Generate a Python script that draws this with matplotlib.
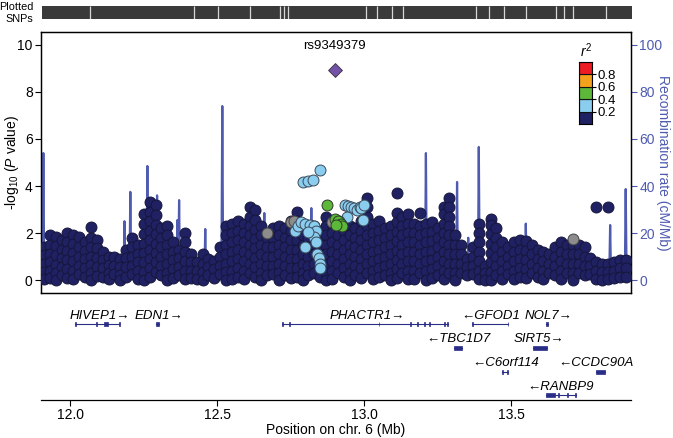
import matplotlib
matplotlib.use("Agg")
import matplotlib.pyplot as plt
from matplotlib.patches import Rectangle

plt.rcParams['font.family'] = ['Liberation Sans', 'DejaVu Sans']
plt.rcParams['mathtext.fontset'] = 'custom'
plt.rcParams['mathtext.rm'] = 'Liberation Sans'
plt.rcParams['mathtext.it'] = 'Liberation Sans:italic'

# ---------------- data ----------------
# navy SNP columns: (position Mb, [-log10 P values])
navy_cols = [
    (11.910, [1.40, 1.05, 0.70, 0.35, 0.05]),
    (11.930, [1.90, 1.50, 1.10, 0.75, 0.40, 0.08]),
    (11.950, [1.85, 1.45, 1.05, 0.65, 0.30, 0.02]),
    (11.970, [1.70, 1.30, 0.95, 0.55, 0.20]),
    (11.990, [2.00, 1.60, 1.25, 0.85, 0.45, 0.10]),
    (12.010, [1.90, 1.55, 1.15, 0.80, 0.40, 0.05]),
    (12.030, [1.85, 1.40, 1.00, 0.60, 0.25]),
    (12.050, [1.60, 1.25, 0.90, 0.50, 0.12]),
    (12.070, [2.25, 1.80, 1.40, 1.00, 0.65, 0.30, 0.02]),
    (12.090, [1.70, 1.35, 0.95, 0.55, 0.18]),
    (12.110, [1.20, 0.85, 0.50, 0.15]),
    (12.130, [1.00, 0.65, 0.30, 0.03]),
    (12.150, [1.00, 0.60, 0.25]),
    (12.170, [0.90, 0.55, 0.20, 0.02]),
    (12.190, [1.30, 0.95, 0.55, 0.15]),
    (12.210, [1.80, 1.40, 1.00, 0.60, 0.25]),
    (12.230, [1.50, 1.10, 0.75, 0.40, 0.05]),
    (12.250, [2.80, 2.40, 1.95, 1.55, 1.15, 0.75, 0.35, 0.02]),
    (12.270, [3.30, 2.90, 2.50, 2.10, 1.70, 1.30, 0.90, 0.50, 0.12]),
    (12.290, [3.20, 2.75, 2.35, 1.95, 1.55, 1.15, 0.75, 0.35]),
    (12.310, [2.20, 1.80, 1.40, 1.00, 0.60, 0.22]),
    (12.330, [2.30, 1.90, 1.50, 1.10, 0.70, 0.30, 0.02]),
    (12.350, [1.60, 1.20, 0.85, 0.45, 0.10]),
    (12.370, [1.30, 0.95, 0.55, 0.20]),
    (12.390, [2.00, 1.60, 1.20, 0.80, 0.40, 0.05]),
    (12.410, [1.10, 0.75, 0.40, 0.08]),
    (12.430, [0.75, 0.40, 0.05]),
    (12.450, [1.10, 0.70, 0.35, 0.02]),
    (12.470, [0.90, 0.55, 0.20]),
    (12.490, [0.80, 0.45, 0.10]),
    (12.510, [1.40, 1.00, 0.60, 0.25]),
    (12.530, [2.30, 1.90, 1.50, 1.10, 0.70, 0.35, 0.02]),
    (12.550, [2.40, 2.00, 1.60, 1.20, 0.80, 0.40, 0.05]),
    (12.570, [2.50, 2.10, 1.70, 1.30, 0.90, 0.50, 0.12]),
    (12.590, [2.40, 2.00, 1.60, 1.20, 0.80, 0.40, 0.03]),
    (12.610, [3.10, 2.70, 2.30, 1.90, 1.50, 1.10, 0.70, 0.30]),
    (12.630, [3.00, 2.55, 2.15, 1.75, 1.35, 0.95, 0.55, 0.15]),
    (12.650, [2.30, 1.90, 1.50, 1.10, 0.70, 0.30, 0.02]),
    (12.670, [1.80, 1.40, 1.00, 0.60, 0.22]),
    (12.690, [2.20, 1.80, 1.40, 1.00, 0.60, 0.25]),
    (12.710, [2.30, 1.90, 1.50, 1.10, 0.70, 0.30, 0.02]),
    (12.730, [2.20, 1.80, 1.40, 1.00, 0.60, 0.20]),
    (12.750, [2.50, 2.10, 1.70, 1.30, 0.90, 0.50, 0.10]),
    (12.770, [2.90, 2.50, 2.10, 1.70, 1.30, 0.90, 0.50, 0.12]),
    (12.790, [2.30, 1.90, 1.50, 1.10, 0.70, 0.30, 0.02]),
    (12.810, [2.20, 1.80, 1.40, 1.00, 0.60, 0.22]),
    (12.830, [2.30, 1.90, 1.50, 1.10, 0.70, 0.30]),
    (12.850, [2.10, 1.70, 1.30, 0.90, 0.50, 0.12]),
    (12.870, [2.70, 2.30, 1.90, 1.50, 1.10, 0.70, 0.30, 0.02]),
    (12.890, [2.40, 2.00, 1.60, 1.20, 0.80, 0.40, 0.05]),
    (12.910, [2.30, 1.90, 1.50, 1.10, 0.70, 0.30]),
    (12.930, [2.10, 1.70, 1.30, 0.90, 0.50, 0.12]),
    (12.950, [2.30, 1.90, 1.50, 1.10, 0.70, 0.30, 0.02]),
    (12.970, [2.20, 1.80, 1.40, 1.00, 0.60, 0.20]),
    (12.990, [2.50, 2.10, 1.70, 1.30, 0.90, 0.50, 0.10]),
    (13.010, [3.50, 3.10, 2.70, 2.30, 1.90, 1.50, 1.10, 0.70, 0.30]),
    (13.030, [2.40, 2.00, 1.60, 1.20, 0.80, 0.40, 0.05]),
    (13.050, [2.50, 2.10, 1.70, 1.30, 0.90, 0.50, 0.12]),
    (13.070, [2.20, 1.80, 1.40, 1.00, 0.60, 0.22]),
    (13.090, [2.30, 1.90, 1.50, 1.10, 0.70, 0.30, 0.02]),
    (13.110, [3.70, 2.85, 2.45, 2.05, 1.65, 1.25, 0.85, 0.45, 0.08]),
    (13.130, [2.70, 2.30, 1.90, 1.50, 1.10, 0.70, 0.30]),
    (13.150, [2.80, 2.40, 2.00, 1.60, 1.20, 0.80, 0.40, 0.03]),
    (13.170, [2.40, 2.00, 1.60, 1.20, 0.80, 0.40, 0.05]),
    (13.190, [2.85, 2.30, 1.90, 1.50, 1.10, 0.70, 0.30]),
    (13.210, [2.40, 2.00, 1.60, 1.20, 0.80, 0.40, 0.02]),
    (13.230, [2.45, 2.05, 1.65, 1.25, 0.85, 0.45, 0.10]),
    (13.250, [2.20, 1.80, 1.40, 1.00, 0.60, 0.20]),
    (13.270, [3.10, 2.80, 2.40, 2.00, 1.60, 1.20, 0.80, 0.40, 0.05]),
    (13.290, [3.50, 3.10, 2.70, 2.30, 1.90, 1.50, 1.10, 0.70, 0.30]),
    (13.310, [1.90, 1.50, 1.10, 0.70, 0.30, 0.02]),
    (13.330, [1.50, 1.10, 0.70, 0.30]),
    (13.350, [0.90, 0.55, 0.20]),
    (13.370, [1.40, 1.00, 0.60, 0.25]),
    (13.390, [2.40, 2.00, 1.60, 1.20, 0.80, 0.40, 0.05]),
    (13.410, [0.60, 0.30, 0.02]),
    (13.430, [2.60, 2.35, 1.95, 1.55, 1.15, 0.75, 0.35, 0.02]),
    (13.450, [2.20, 1.80, 1.40, 1.00, 0.60, 0.22]),
    (13.470, [1.60, 1.20, 0.80, 0.40, 0.05]),
    (13.490, [1.40, 1.00, 0.60, 0.25]),
    (13.510, [1.60, 1.20, 0.80, 0.40, 0.03]),
    (13.530, [1.70, 1.30, 0.90, 0.50, 0.12]),
    (13.550, [1.65, 1.25, 0.85, 0.45, 0.08]),
    (13.570, [1.50, 1.10, 0.70, 0.30]),
    (13.590, [1.30, 0.90, 0.50, 0.12]),
    (13.610, [1.20, 0.80, 0.40, 0.05]),
    (13.630, [1.10, 0.70, 0.30]),
    (13.650, [1.40, 1.00, 0.60, 0.22]),
    (13.670, [1.60, 1.20, 0.80, 0.40, 0.03]),
    (13.690, [1.50, 1.10, 0.70, 0.30]),
    (13.710, [1.50, 1.10, 0.70, 0.30, 0.02]),
    (13.730, [1.50, 1.10, 0.70, 0.30]),
    (13.750, [1.40, 1.00, 0.60, 0.22]),
    (13.770, [0.95, 0.60, 0.25]),
    (13.790, [3.10, 0.75, 0.40, 0.05]),
    (13.810, [0.70, 0.35, 0.02]),
    (13.830, [3.10, 0.70, 0.35, 0.05]),
    (13.850, [0.75, 0.40, 0.08]),
    (13.870, [0.85, 0.50, 0.15]),
    (13.890, [0.85, 0.50, 0.12]),
]

lightblue_pos = [12.790, 12.810, 12.826, 12.850, 12.765, 12.775, 12.785, 12.800,
                 12.815, 12.830, 12.835, 12.830, 12.800, 12.840, 12.845, 12.850,
                 12.850, 12.835, 12.810, 12.935, 12.945, 12.955, 12.965, 12.975,
                 12.985, 12.990, 12.998, 12.995, 12.940, 12.915]
lightblue_p = [4.17, 4.20, 4.25, 4.68, 2.10, 2.30, 2.45, 2.40,
               2.35, 2.30, 2.10, 1.85, 1.40, 1.10, 0.95, 0.70,
               0.50, 1.60, 2.05, 3.20, 3.15, 3.10, 3.05, 3.00,
               3.10, 3.05, 3.20, 2.55, 2.70, 2.50]

green_pos = [12.875, 12.900, 12.910, 12.920, 12.925, 12.905]
green_p = [3.20, 2.60, 2.50, 2.40, 2.30, 2.35]

gray_pos = [12.670, 12.750, 12.760, 12.890, 13.710]
gray_p = [2.00, 2.45, 2.50, 2.45, 1.75]

lead_pos = 12.900
lead_p = 8.94
lead_name = "rs9349379"

recomb_pos = [11.900, 11.905, 11.908, 11.911, 11.950, 12.000, 12.050, 12.100,
              12.150, 12.181, 12.184, 12.187, 12.201, 12.204, 12.207, 12.259,
              12.262, 12.265, 12.277, 12.280, 12.283, 12.292, 12.295, 12.298,
              12.361, 12.364, 12.367, 12.370, 12.373, 12.456, 12.459, 12.462,
              12.514, 12.517, 12.520, 12.527, 12.530, 12.533, 12.600, 12.657,
              12.660, 12.663, 12.750, 12.817, 12.820, 12.823, 12.900, 13.000,
              13.113, 13.116, 13.119, 13.207, 13.210, 13.213, 13.313, 13.316,
              13.319, 13.351, 13.354, 13.357, 13.387, 13.390, 13.393, 13.450,
              13.547, 13.550, 13.553, 13.650, 13.750, 13.834, 13.837, 13.840,
              13.887, 13.890, 13.893, 13.910]
recomb_rate = [1.0, 1.5, 54.0, 1.5, 1.0, 1.2, 0.8, 1.0,
               1.2, 1.5, 25.0, 1.5, 1.5, 37.5, 1.5, 1.5,
               48.5, 2.0, 2.0, 22.0, 2.0, 2.0, 36.0, 2.0,
               2.0, 25.5, 2.0, 34.0, 2.0, 1.5, 21.7, 1.5,
               2.0, 74.0, 3.0, 3.0, 21.0, 2.0, 1.0, 1.5,
               28.5, 1.5, 1.0, 1.5, 30.6, 1.5, 1.0, 1.0,
               1.5, 17.0, 1.5, 2.0, 54.0, 2.0, 2.0, 41.7,
               2.0, 1.5, 18.0, 1.5, 2.0, 56.6, 2.0, 1.0,
               1.5, 24.0, 1.5, 1.0, 1.0, 1.5, 23.4, 1.5,
               2.0, 38.7, 2.0, 1.0]

snp_gap_pos = [12.063, 12.417, 12.498, 12.608, 12.711, 12.725, 12.737, 13.001,
               13.040, 13.091, 13.128, 13.377, 13.421, 13.472, 13.546, 13.648,
               13.678, 13.707, 13.821]

gene_names = ["HIVEP1", "EDN1", "PHACTR1", "GFOD1", "NOL7", "TBC1D7", "SIRT5",
              "C6orf114", "CCDC90A", "RANBP9"]
gene_start = [12.017, 12.292, 12.720, 13.367, 13.618, 13.306, 13.575, 13.470, 13.790, 13.620]
gene_end = [12.167, 12.300, 13.286, 13.490, 13.626, 13.333, 13.622, 13.490, 13.820, 13.720]
gene_strand = ["+", "+", "+", "-", "+", "-", "+", "-", "-", "-"]
gene_row = [0, 0, 0, 0, 0, 1, 1, 2, 2, 3]
gene_label_pos = [12.099, 12.300, 13.010, 13.430, 13.626, 13.320, 13.595, 13.480, 13.790, 13.667]
gene_exons = [
    [(12.016, 0.003), (12.087, 0.003), (12.116, 0.012), (12.165, 0.003)],
    [(12.292, 0.008)],
    [(12.719, 0.003), (12.745, 0.003), (13.049, 0.003), (13.155, 0.003), (13.180, 0.003),
     (13.203, 0.003), (13.222, 0.003), (13.270, 0.006), (13.283, 0.003)],
    [(13.366, 0.003), (13.488, 0.003)],
    [(13.619, 0.007)],
    [(13.306, 0.027)],
    [(13.575, 0.047)],
    [(13.470, 0.003), (13.487, 0.003)],
    [(13.790, 0.030)],
    [(13.620, 0.030), (13.660, 0.004), (13.690, 0.003), (13.718, 0.003)],
]

r2_colors = ["#1F2163", "#8BCDEE", "#5DB83A", "#F4A21C", "#EE1D23"]
r2_ticks = [0.2, 0.4, 0.6, 0.8]
xticks = [12.0, 12.5, 13.0, 13.5]
left_ticks = [0, 2, 4, 6, 8, 10]
right_ticks = [0, 20, 40, 60, 80, 100]

# ---------------- figure ----------------
W, H = 673, 438
fig = plt.figure(figsize=(W / 100, H / 100), dpi=100)

def frac(x0, y0, x1, y1):
    return [x0 / W, 1 - y1 / H, (x1 - x0) / W, (y1 - y0) / H]

XLIM = (11.90, 13.908)
RECOMB_COL = "#4F5BB0"
EDGE = "#16163a"

ax = fig.add_axes(frac(41, 32, 631, 293))
ax.set_xlim(*XLIM)
ax.set_ylim(-0.55, 10.55)
ax2 = ax.twinx()
ax2.set_ylim(-5.5, 105.5)
ax2.plot(recomb_pos, recomb_rate, color=RECOMB_COL, lw=1.6, zorder=1)
ax.set_zorder(ax2.get_zorder() + 1)
ax.patch.set_visible(False)

nx, ny = [], []
for xpos, ys in navy_cols:
    for yv in ys:
        nx.append(xpos)
        ny.append(yv)
S = 62
ax.scatter(nx, ny, s=S, c=r2_colors[0], edgecolors=EDGE, linewidths=0.7, zorder=3)
ax.scatter(gray_pos, gray_p, s=S, c="#8C8C8C", edgecolors="#444444", linewidths=0.7, zorder=4)
ax.scatter(lightblue_pos, lightblue_p, s=S, c=r2_colors[1], edgecolors="#3a4a5a", linewidths=0.7, zorder=5)
ax.scatter(green_pos, green_p, s=S, c=r2_colors[2], edgecolors="#2a3a2a", linewidths=0.7, zorder=6)
ax.scatter([lead_pos], [lead_p], s=50, marker="D", c="#7452A8", edgecolors="#333333", linewidths=0.6, zorder=7)
ax.text(lead_pos, 9.95, lead_name, ha="center", va="center", fontsize=9.5)

ax.set_xticks([])
ax.set_yticks(left_ticks)
ax.tick_params(axis="y", labelsize=10, length=4, width=0.8, pad=2)
for s in ax.spines.values():
    s.set_linewidth(0.9)
ax.set_ylabel("-log$_{10}$ ($P$ value)", fontsize=10, va="center")
ax.yaxis.set_label_coords((12 - 41) / 590, 0.5)

ax2.set_yticks(right_ticks)
ax2.tick_params(axis="y", colors=RECOMB_COL, labelsize=10, length=4, width=0.8, pad=2)
for s in ax2.spines.values():
    s.set_linewidth(0.9)
ax2.spines["right"].set_color("black")
ax2.set_ylabel("Recombination rate (cM/Mb)", fontsize=10, color=RECOMB_COL, rotation=270, va="center")
ax2.yaxis.set_label_coords((663 - 41) / 590, 0.5)

# plotted SNP strip
axs = fig.add_axes(frac(42, 6, 632, 19))
axs.set_xlim(*XLIM)
axs.set_ylim(0, 1)
axs.set_facecolor("#3a3a3a")
axs.vlines(snp_gap_pos, 0, 1, color="#d8d8d8", lw=0.9)
axs.set_xticks([])
axs.set_yticks([])
for s in axs.spines.values():
    s.set_visible(False)
fig.text(33 / W, 1 - 13 / H, "Plotted\nSNPs", ha="right", va="center", fontsize=7.8, linespacing=1.15)

# r2 legend
axl = fig.add_axes(frac(579, 62, 592, 124))
axl.set_xlim(0, 1)
axl.set_ylim(0, 1)
for i, col in enumerate(r2_colors):
    axl.add_patch(Rectangle((0, i * 0.2), 1, 0.2, facecolor=col, edgecolor="#111111", lw=0.8))
axl.set_xticks([])
axl.yaxis.tick_right()
axl.set_yticks(r2_ticks)
axl.set_yticklabels([f"{t:.1f}" for t in r2_ticks])
axl.tick_params(axis="y", length=3, width=0.8, labelsize=9.5, pad=1)
for s in axl.spines.values():
    s.set_linewidth(0.8)
fig.text(586 / W, 1 - 51 / H, "$r^2$", ha="center", va="center", fontsize=10)

# gene panel
axg = fig.add_axes(frac(41, 300, 631, 400))
axg.set_xlim(*XLIM)
axg.set_ylim(0, 100)
row_line_y = [76, 52, 28, 5]
row_label_y = [84, 61, 37, 13]
GENE_COL = "#2B2E86"
for name, st, en, strand, row, lp, exons in zip(gene_names, gene_start, gene_end, gene_strand,
                                                gene_row, gene_label_pos, gene_exons):
    yl = row_line_y[row]
    axg.plot([st, en], [yl, yl], color=GENE_COL, lw=0.8)
    axg.broken_barh(exons, (yl - 2.2, 4.4), facecolors=GENE_COL, edgecolors=GENE_COL, lw=0.5)
    label = f"{name}\u2192" if strand == "+" else f"\u2190{name}"
    axg.text(lp, row_label_y[row], label, ha="center", va="center", fontsize=9.5,
             style="italic", family=["Liberation Sans", "DejaVu Sans"])
for k in ["left", "right", "top"]:
    axg.spines[k].set_visible(False)
axg.spines["bottom"].set_linewidth(0.9)
axg.set_yticks([])
axg.set_xticks(xticks)
axg.set_xticklabels([f"{t:.1f}" for t in xticks])
axg.tick_params(axis="x", labelsize=10, length=4, width=0.8, pad=2)
axg.set_xlabel("Position on chr. 6 (Mb)", fontsize=10, va="center")
axg.xaxis.set_label_coords(0.5, -(430 - 400) / 100)

fig.savefig("out.png", dpi=100)
